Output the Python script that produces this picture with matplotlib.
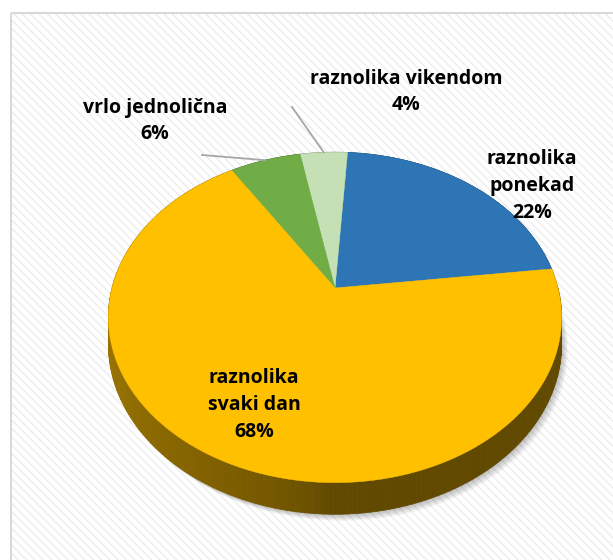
import numpy as np
import matplotlib.pyplot as plt
from matplotlib.patches import Polygon, Rectangle

# podaci (redom suprotno od kazaljke na satu, od desne strane)
kategorije = ["raznolika\nponekad", "raznolika vikendom", "vrlo jednolična", "raznolika\nsvaki dan"]
udjeli = [22, 4, 6, 68]
boje = ["#2E75B6", "#C5E0B4", "#70AD47", "#FFC000"]
pocetni_kut = 7.0

# pozicije natpisa (u pikselima)
natpisi_xy = [(532, 186), (406, 92), (155, 121), (254, 405)]

plt.rcParams['font.family'] = ['Open Sans', 'DejaVu Sans']
plt.rcParams['hatch.linewidth'] = 0.9

fig = plt.figure(figsize=(6.13, 5.6), dpi=100)
ax = fig.add_axes([0, 0, 1, 1])
ax.set_xlim(0, 613)
ax.set_ylim(560, 0)
ax.axis('off')

# pozadina s prugama i okvir
ax.add_patch(Rectangle((10.5, 12.5), 700, 700, facecolor='white', edgecolor='none', zorder=0))
ax.add_patch(Rectangle((10.5, 12.5), 700, 700, facecolor='none', edgecolor='#ececec',
                       hatch='\\\\\\\\', linewidth=0, zorder=0.5))
ax.add_patch(Rectangle((10.5, 12.5), 700, 700, facecolor='none', edgecolor='#d9d9d9',
                       linewidth=1.5, zorder=1))

# perspektiva 3D pite
cx, cy = 335, 288
A, B, a = 223, 160, 0.178
debljina = 26


def tocka(kut, r=1.0, dz=0.0):
    t = np.radians(kut)
    u, v = r * np.cos(t), r * np.sin(t)
    w = 1 / (1 + a * v)
    return cx + A * u * w, cy - B * v * w + dz * w


granice = pocetni_kut + np.concatenate([[0], np.cumsum(udjeli)]) * 3.6

# sjena ispod pite
kutevi = np.linspace(0, 360, 361)
for k in range(1, 12):
    pts = [tocka(t, 1.0, debljina + k * 0.5) for t in kutevi]
    pts = [(x + k * 0.6, y) for x, y in pts]
    ax.add_patch(Polygon(pts, closed=True, facecolor='black', edgecolor='none',
                         alpha=0.025, zorder=2))

# bočna strana
for i in range(len(udjeli)):
    rgb = np.array(plt.matplotlib.colors.to_rgb(boje[i]))
    t0, t1 = granice[i], granice[i + 1]
    n = max(2, int(t1 - t0))
    tt = np.linspace(t0, t1, n + 1)
    for j in range(n):
        kut = tt[j] % 360
        f = 0.38 + 0.22 * np.clip((268 - kut) / 70, 0, 1) ** 0.6
        if kut < 180:
            f = 0.5
        pts = [tocka(tt[j]), tocka(tt[j + 1]), tocka(tt[j + 1], 1, debljina), tocka(tt[j], 1, debljina)]
        ax.add_patch(Polygon(pts, closed=True, facecolor=rgb * f, edgecolor=rgb * f,
                             linewidth=0.5, zorder=3))

# gornja strana
for i in range(len(udjeli)):
    tt = np.linspace(granice[i], granice[i + 1], 200)
    pts = [(cx, cy)] + [tocka(t) for t in tt]
    ax.add_patch(Polygon(pts, closed=True, facecolor=boje[i], edgecolor=boje[i],
                         linewidth=0.3, zorder=4))

# natpisi
for i, (x, y) in enumerate(natpisi_xy):
    ax.text(x, y, f"{kategorije[i]}\n{udjeli[i]}%", ha='center', va='center',
            fontsize=14, fontweight='bold', color='black', linespacing=1.45, zorder=6)

# linije vodilice za male kriške
vodilice = {1: (292, 107), 2: (202, 155)}
for i, (x0, y0) in vodilice.items():
    x1, y1 = tocka((granice[i] + granice[i + 1]) / 2)
    ax.plot([x0, x1], [y0, y1], color='#a6a6a6', linewidth=1.3, zorder=5)

fig.savefig('out.png', dpi=100)
